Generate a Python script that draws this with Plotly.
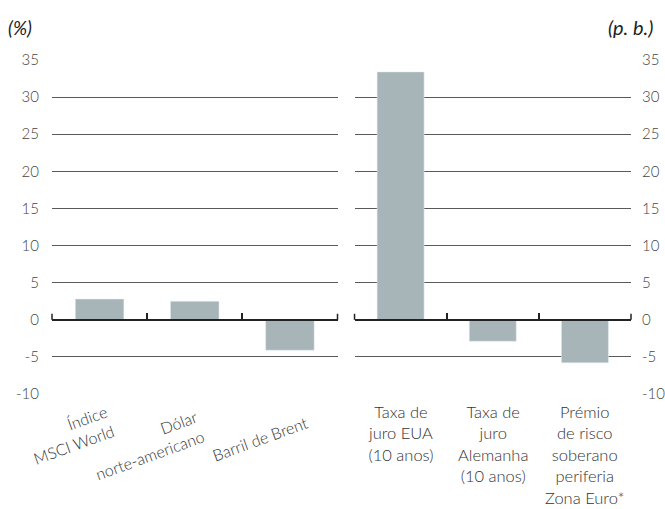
import plotly.graph_objects as go

# ---- data ----
left_categories = ["Índice<br>MSCI World", "Dólar<br>norte-americano", "Barril de Brent"]
left_values = [2.8, 2.5, -4.1]
right_categories = ["Taxa de<br>juro EUA<br>(10 anos)",
                    "Taxa de<br>juro<br>Alemanha<br>(10 anos)",
                    "Prémio<br>de risco<br>soberano<br>periferia<br>Zona Euro*"]
right_values = [33.4, -2.9, -5.8]
y_ticks = [-10, -5, 0, 5, 10, 15, 20, 25, 30, 35]
y_tick_text = ["-10", "-5", "0", "5", "10", "15", "20", "25", "30", "35"]
left_unit = "(%)"
right_unit = "(p. b.)"

# left label placement (pixel shifts / paper y of rotated labels)
left_label_xshift = [-30, -48, -30]
left_label_y = [-0.123, -0.152, -0.132]

BAR = "#a7b5b8"
GRID = "#5a5a5a"
AXIS = "#222222"
TXT = "#444444"
FONT = "Lato, Open Sans, DejaVu Sans, sans-serif"

fig = go.Figure()
fig.add_trace(go.Bar(x=left_categories, y=left_values, marker_color=BAR,
                     xaxis="x", yaxis="y", showlegend=False))
fig.add_trace(go.Bar(x=right_categories, y=right_values, marker_color=BAR,
                     xaxis="x2", yaxis="y2", showlegend=False))

ymin, ymax = -10, 35
zero_pos = (0 - ymin) / (ymax - ymin)

common_x = dict(type="category", anchor="free", position=zero_pos,
                range=[-0.5, 2.5], autorange=False, automargin=False,
                showline=True, linecolor=AXIS, linewidth=1.5,
                ticks="inside", tickson="boundaries", ticklen=6,
                tickcolor=AXIS, tickwidth=1.5, showticklabels=False,
                showgrid=False, zeroline=False, fixedrange=True)
common_y = dict(range=[ymin, ymax], tickvals=y_ticks, ticktext=y_tick_text,
                showgrid=True, gridcolor=GRID, gridwidth=1, zeroline=False,
                showline=False, ticks="", automargin=False,
                tickfont=dict(size=15, color=TXT, family=FONT, weight=300),
                domain=[0, 1])

fig.update_layout(
    width=665, height=509,
    margin=dict(l=52, r=34, t=60, b=115),
    plot_bgcolor="white", paper_bgcolor="white",
    bargap=0.49,
    font=dict(family=FONT, color=TXT),
    xaxis=dict(domain=[0, 0.4931], **common_x),
    xaxis2=dict(domain=[0.5225, 1], **common_x),
    yaxis=dict(anchor="x", side="left", ticklabelstandoff=12, **common_y),
    yaxis2=dict(anchor="x2", side="right", ticklabelstandoff=10, **common_y),
)

# small end ticks on the zero axis line at both ends of each panel
for xr, yr in (("x domain", "y"), ("x2 domain", "y2")):
    for xd in (0, 1):
        fig.add_shape(type="line", xref=xr, yref=yr,
                      x0=xd, x1=xd, ysizemode="pixel", yanchor=0, y0=0, y1=6,
                      line=dict(color=AXIS, width=1.5))

annotations = []
for cat, xs, yy in zip(left_categories, left_label_xshift, left_label_y):
    annotations.append(dict(x=cat, xref="x", y=yy, yref="paper", text=cat,
                            showarrow=False, textangle=-20, xshift=xs,
                            xanchor="center", yanchor="middle", align="right",
                            font=dict(size=16, color="#333", family=FONT, weight=300)))
for cat in right_categories:
    annotations.append(dict(x=cat, xref="x2", y=-0.018, yref="paper", text=cat,
                            showarrow=False, xanchor="center", yanchor="top",
                            align="center",
                            font=dict(size=16.5, color="#333", family=FONT, weight=300)))
annotations.append(dict(x=0, xref="paper", xshift=-46, y=1, yref="paper",
                        yshift=33, text="<i>" + left_unit + "</i>", showarrow=False,
                        xanchor="left", yanchor="middle",
                        font=dict(size=19, color="#222", family=FONT)))
annotations.append(dict(x=1, xref="paper", xshift=24, y=1, yref="paper",
                        yshift=33, text="<i>" + right_unit + "</i>", showarrow=False,
                        xanchor="right", yanchor="middle",
                        font=dict(size=20, color="#222", family=FONT)))
fig.update_layout(annotations=annotations)

fig.write_html("out.html", config={"displayModeBar": False},
               post_script="document.body.style.margin='0px';document.body.style.padding='0px';")
